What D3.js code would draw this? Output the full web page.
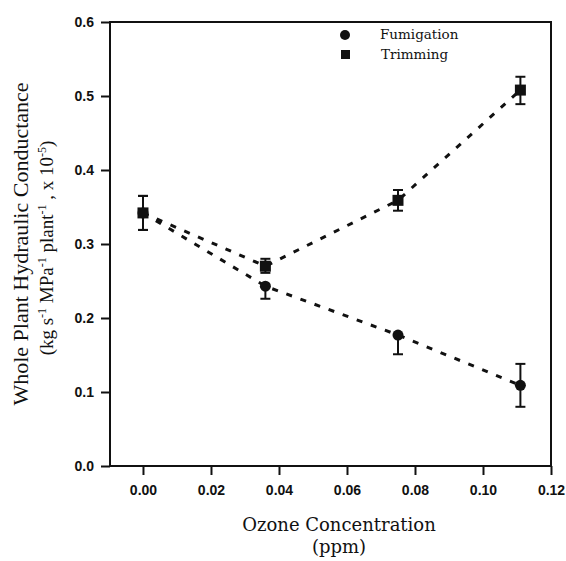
<!DOCTYPE html>
<html>
<head>
<meta charset="utf-8">
<script src="https://cdn.jsdelivr.net/npm/d3@7"></script>
<style>
  body { margin: 0; background: #fff; }
  .tick text { font-family: "Liberation Sans Narrow", "Liberation Sans", Arial, sans-serif; font-weight: bold; font-size: 14px; fill: #111; }
  .lab { font-family: "Liberation Serif", "Times New Roman", serif; fill: #111; }
  .book { font-family: "DejaVu Serif", serif; fill: #111; }
</style>
</head>
<body>
<div id="chart"></div>
<script>
// data
const ozone = [0.0, 0.036, 0.075, 0.111];
const fumigation = [0.342, 0.243, 0.177, 0.109];
const fumigationLo = [0.023, 0.017, 0.026, 0.029];
const fumigationHi = [0.023, 0, 0, 0.029];
const trimming = [0.342, 0.270, 0.359, 0.508];
const trimmingLo = [0.023, 0.009, 0.014, 0.019];
const trimmingHi = [0.023, 0.010, 0.014, 0.018];
const xTicks = [0.00, 0.02, 0.04, 0.06, 0.08, 0.10, 0.12];
const yTicks = [0.0, 0.1, 0.2, 0.3, 0.4, 0.5, 0.6];

const width = 566, height = 561;
const margin = {top: 22, right: 15, bottom: 95, left: 110};

const svg = d3.select("#chart").append("svg")
    .attr("width", width)
    .attr("height", height);

const x = d3.scaleLinear().domain([-0.0097, 0.12]).range([margin.left, width - margin.right]);
const y = d3.scaleLinear().domain([0, 0.6]).range([height - margin.bottom, margin.top]);

// frame
svg.append("rect")
    .attr("x", x.range()[0]).attr("y", y(0.6))
    .attr("width", x.range()[1] - x.range()[0])
    .attr("height", y(0) - y(0.6))
    .attr("fill", "none").attr("stroke", "#111").attr("stroke-width", 2);

svg.append("g")
    .attr("transform", `translate(0,${y(0)})`)
    .call(d3.axisBottom(x).tickValues(xTicks).tickFormat(d3.format(".2f")).tickSize(9).tickPadding(10))
    .call(g => g.select(".domain").remove())
    .call(g => g.selectAll(".tick line").attr("stroke", "#111").attr("stroke-width", 2));

svg.append("g")
    .attr("transform", `translate(${x.range()[0]},0)`)
    .call(d3.axisLeft(y).tickValues(yTicks).tickFormat(d3.format(".1f")).tickSize(9).tickPadding(7))
    .call(g => g.select(".domain").remove())
    .call(g => g.selectAll(".tick line").attr("stroke", "#111").attr("stroke-width", 2));

// dashed trend lines
const line = d3.line().x(d => x(d[0])).y(d => y(d[1]));
[fumigation, trimming].forEach(s => {
    svg.append("path")
        .attr("d", line(ozone.map((o, i) => [o, s[i]])))
        .attr("fill", "none").attr("stroke", "#111")
        .attr("stroke-width", 3)
        .attr("stroke-dasharray", "6,9");
});

// error bars
function errorBars(vals, lo, hi) {
    const g = svg.append("g").attr("stroke", "#111").attr("stroke-width", 2);
    vals.forEach((v, i) => {
        const cx = x(ozone[i]);
        g.append("line").attr("x1", cx).attr("x2", cx).attr("y1", y(v - lo[i])).attr("y2", y(v + hi[i]));
        [[lo[i], v - lo[i]], [hi[i], v + hi[i]]].forEach(([e, p]) => {
            if (e > 0) g.append("line").attr("x1", cx - 5).attr("x2", cx + 5).attr("y1", y(p)).attr("y2", y(p));
        });
    });
}
errorBars(fumigation, fumigationLo, fumigationHi);
errorBars(trimming, trimmingLo, trimmingHi);

svg.append("g").selectAll("circle")
    .data(fumigation)
    .join("circle")
    .attr("cx", (d, i) => x(ozone[i]))
    .attr("cy", d => y(d))
    .attr("r", 5.5)
    .attr("fill", "#111");

svg.append("g").selectAll("rect")
    .data(trimming)
    .join("rect")
    .attr("x", (d, i) => x(ozone[i]) - 5.5)
    .attr("y", d => y(d) - 5.5)
    .attr("width", 11).attr("height", 11)
    .attr("fill", "#111");

// legend
const leg = svg.append("g");
leg.append("circle").attr("cx", 345).attr("cy", 35).attr("r", 5).attr("fill", "#111");
leg.append("rect").attr("x", 341).attr("y", 50).attr("width", 9).attr("height", 9).attr("fill", "#111");
leg.append("text").attr("class", "book").attr("x", 380).attr("y", 39).style("font-size", "13.5px").text("Fumigation");
leg.append("text").attr("class", "book").attr("x", 381).attr("y", 59).style("font-size", "13.5px").text("Trimming");

// axis titles
svg.append("text").attr("class", "book").attr("x", 339).attr("y", 531)
    .attr("text-anchor", "middle").style("font-size", "18px").text("Ozone Concentration");
svg.append("text").attr("class", "book").attr("x", 339).attr("y", 553)
    .attr("text-anchor", "middle").style("font-size", "18px").text("(ppm)");

const yl = svg.append("g").attr("transform", "translate(28,244) rotate(-90)");
yl.append("text").attr("class", "lab").attr("text-anchor", "middle").style("font-size", "22px")
    .text("Whole Plant Hydraulic Conductance");
const sub = yl.append("text").attr("class", "lab").attr("x", -4).attr("y", 25)
    .attr("text-anchor", "middle").style("font-size", "19px");
const parts = [["(kg s", ""], ["-1", "sup"], [" MPa", ""], ["-1", "sup"], [" plant", ""], ["-1", "sup"], [" , x 10", ""], ["-5", "sup"], [")", ""]];
parts.forEach(([t, k]) => {
    const ts = sub.append("tspan").text(t);
    if (k === "sup") ts.attr("baseline-shift", "super").style("font-size", "12px");
});
</script>
</body>
</html>
